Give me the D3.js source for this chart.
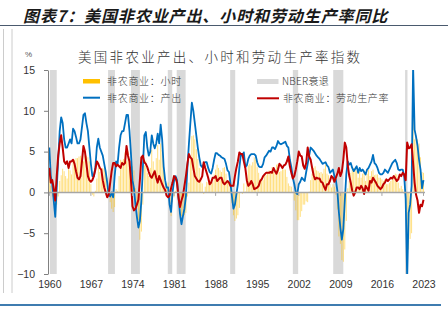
<!DOCTYPE html>
<html>
<head>
<meta charset="utf-8">
<script src="https://cdn.jsdelivr.net/npm/d3@7"></script>
<style>
  html, body { margin: 0; padding: 0; background: #fff; }
  svg { display: block; }
</style>
</head>
<body>
<svg id="chart" width="448" height="321"></svg>
<script>
// ---------------- DATA (quarterly YoY %, 1960Q1 ... 2023Q1) ----------------
const startYear = 1960;
const xTickYears = [1960, 1967, 1974, 1981, 1988, 1995, 2002, 2009, 2016, 2023];
const yTicks = [15, 10, 5, 0, -5, -10];

const output = [
  5.5, 2.0, 1.0, -1.0,   -3.0, 0.5, 4.0, 7.5,   9.2, 8.5, 6.5, 5.5,   5.5, 6.0, 6.5, 6.0,
  7.8, 7.5, 6.8, 6.0,    6.0, 6.5, 8.0, 9.5,    9.7, 8.5, 7.5, 5.5,   3.5, 2.0, 2.0, 3.0,
  5.5, 6.6, 5.5, 5.0,    4.5, 3.5, 2.5, 1.2,    -0.3, -0.5, 0.0, -0.6, 2.0, 3.8, 3.5, 5.5,
  7.0, 7.5, 7.5, 8.5,    9.5, 9.5, 7.5, 4.7,    1.5, 0.5, -1.5, -3.0, -4.3, -3.5, -1.0, 3.0,
  7.0, 7.4, 5.5, 4.5,    5.0, 7.0, 6.0, 5.4,    6.0, 7.2, 6.0, 8.3,   6.5, 3.2, 1.5, 0.6,
  0.6, -1.5, -2.4, 0.0,  1.4, 2.0, 1.5, -0.6,   -2.6, -3.9, -2.9, -2.0, -0.5, 3.0, 5.9, 8.5,
  11.0, 10.0, 8.5, 7.0,  5.5, 4.3, 3.3, 3.1,    3.5, 3.7, 3.7, 3.0,   2.5, 2.3, 3.0, 4.0,
  4.8, 4.8, 4.6, 4.5,    4.3, 4.2, 4.1, 3.5,    2.7, 2.5, 1.1, -0.5,  -2.0, -1.5, -0.2, 1.0,
  3.0, 4.7, 4.5, 4.9,    3.1, 3.3, 4.1, 4.5,    4.7, 4.7, 4.7, 4.5,   3.7, 3.2, 3.1, 3.1,
  3.5, 4.3, 4.5, 4.8,    5.1, 5.0, 5.5, 5.5,    5.3, 5.7, 6.3, 6.0,   5.9, 6.0, 6.1, 6.2,
  5.7, 5.5, 4.0, 3.1,    1.8, 1.0, 0.0, -0.2,   1.0, 1.3, 1.8, 1.6,   1.4, 2.5, 3.5, 4.5,
  5.5, 5.3, 5.1, 4.8,    4.5, 4.3, 4.1, 3.8,    3.5, 3.6, 3.7, 3.3,   3.1, 2.4, 2.6, 2.8,
  2.0, 1.5, 0.2, -2.4,   -4.3, -5.8, -4.5, -1.0, 2.2, 3.8, 3.4, 3.6,  3.0, 2.6, 2.9, 3.2,
  2.4, 3.0, 2.6, 2.8,    2.5, 2.2, 2.8, 3.0,    3.4, 3.8, 4.6, 3.6,   3.4, 3.0, 2.4, 2.2,
  2.2, 2.4, 2.8, 2.6,    2.4, 2.8, 3.2, 3.6,    3.8, 4.0, 3.6, 2.8,   2.7, 2.8, 2.8, 2.0,
  -0.8, -10.5, -2.5, -1.5, 0.8, 15.5, 7.7, 6.8, 5.7, 4.0, 2.8, 0.5,   1.5
];

const productivity = [
  3.0, 1.2, 1.5, 0.5,    -1.0, 2.0, 4.5, 6.0,   7.0, 5.5, 3.8, 3.5,   3.8, 3.0, 3.8, 3.8,
  4.0, 3.5, 2.6, 1.8,    1.6, 2.0, 3.8, 5.7,    5.0, 3.5, 2.0, 1.5,   1.3, 1.5, 2.0, 2.8,
  3.8, 3.5, 3.0, 2.8,    1.5, 0.6, 0.0, -0.6,   -0.3, 1.2, 2.6, 3.6,  3.6, 3.2, 3.4, 3.2,
  3.0, 3.6, 3.4, 3.6,    5.7, 4.5, 3.8, 1.5,    -1.7, -2.2, -2.0, -1.5, -0.9, 1.5, 4.3, 4.5,
  3.7, 3.5, 3.1, 2.5,    2.0, 1.8, 2.2, 2.6,    1.8, 1.2, 2.0, 1.5,   1.0, 0.6, 0.3, -0.4,
  -0.6, -0.4, 0.5, 1.2,  2.0, 1.8, 1.2, -0.6,   -1.8, -1.0, -0.4, 0.8, 2.0, 3.5, 4.7, 4.3,
  4.1, 3.0, 2.0, 1.7,    1.4, 1.3, 1.6, 2.0,    3.7, 3.0, 2.4, 1.8,   1.0, 1.2, 1.8, 1.8,
  2.0, 1.4, 1.6, 1.8,    1.8, 1.2, 1.0, 1.2,    1.4, 1.2, 0.8, 0.8,   0.8, 2.0, 3.0, 3.8,
  4.9, 4.7, 4.7, 3.8,    3.0, 1.5, 0.8, 1.0,    1.4, 1.0, 0.4, 0.5,   0.6, 0.8, 1.4, 1.6,
  2.0, 2.2, 2.4, 2.4,    2.4, 2.5, 2.4, 3.0,    2.6, 2.3, 2.8, 3.5,   3.3, 3.0, 3.3, 3.4,
  3.8, 4.4, 3.2, 2.4,    1.7, 2.0, 2.8, 3.8,    5.0, 4.5, 4.4, 3.3,   2.9, 3.6, 5.5, 4.4,
  4.0, 3.0, 2.1, 1.6,    1.8, 1.7, 1.7, 1.3,    1.2, 0.7, 0.3, 1.0,   1.0, 1.4, 2.0, 1.8,
  1.3, 1.8, 2.3, 3.0,    2.0, 2.5, 4.0, 6.1,    5.5, 3.3, 2.0, 1.2,   0.2, -0.4, 0.0, 0.6,
  0.6, 0.4, 0.8, 0.5,    -0.2, 0.8, 0.5, 0.2,   1.4, 1.2, 1.8, 1.5,   1.2, 0.8, 0.6, 0.4,
  0.6, 1.0, 1.2, 1.6,    1.4, 1.6, 1.8, 1.7,    2.0, 1.7, 1.4, 1.6,   2.2, 2.0, 2.4, 2.2,
  1.5, 6.1, 5.4, 5.5,    5.9, 3.6, 1.2, -0.3,   -1.0, -2.5, -1.5, -1.7, -0.9
];

const hours = [
  2.4, 0.8, -0.5, -1.5,  -2.0, -1.5, -0.5, 1.4, 2.1, 2.9, 2.6, 2.0,   1.7, 3.0, 2.7, 2.2,
  3.8, 4.0, 4.2, 4.2,    4.4, 4.5, 4.2, 3.8,    4.5, 4.5, 4.3, 3.8,   1.0, -0.3, -0.5, 0.2,
  1.7, 3.0, 2.5, 2.2,    3.0, 2.9, 2.5, 1.8,    0.0, -1.2, -2.0, -2.4, -1.8, 0.4, 0.2, 2.0,
  4.0, 3.9, 4.1, 4.9,    3.8, 5.0, 3.7, 3.2,    3.2, 2.7, 0.5, -1.5,  -3.4, -5.8, -4.8, -1.5,
  3.3, 3.9, 2.4, 2.0,    3.0, 5.2, 3.8, 2.8,    4.2, 5.8, 4.0, 6.0,   5.2, 2.6, 1.2, 1.0,
  1.2, -1.1, -2.9, -1.2, -0.6, 0.2, 0.3, 0.0,   -0.8, -2.9, -2.5, -2.8, -2.5, -0.5, 1.2, 4.2,
  6.9, 7.0, 6.5, 5.3,    4.1, 3.0, 1.7, 1.1,    -0.2, 0.7, 1.3, 1.2,  1.5, 1.1, 1.2, 2.2,
  2.8, 3.4, 3.0, 2.7,    2.5, 3.0, 3.1, 2.3,    1.3, 1.3, 0.3, -1.3,  -2.8, -3.5, -3.2, -2.8,
  -1.9, 0.0, -0.2, 1.1,  0.1, 1.8, 3.3, 3.5,    3.3, 3.7, 4.3, 4.0,   3.1, 2.4, 1.7, 1.5,
  1.5, 2.1, 2.1, 2.4,    2.7, 2.5, 3.1, 2.5,    2.7, 3.4, 3.5, 2.5,   2.6, 3.0, 2.8, 2.8,
  1.9, 1.1, 0.8, 0.7,    0.1, -1.0, -2.2, -3.4, -3.4, -3.0, -2.3, -1.5, -1.5, -1.1, -1.2, 0.1,
  1.5, 2.3, 3.0, 3.2,    2.7, 2.6, 2.4, 2.5,    2.3, 2.9, 3.4, 2.3,   2.1, 1.0, 0.6, 1.0,
  0.7, -0.3, -2.1, -5.4, -6.3, -8.3, -8.5, -7.0, -3.5, 0.5, 1.4, 2.4, 2.8, 3.0, 2.9, 2.6,
  1.8, 2.6, 1.8, 2.3,    2.7, 1.4, 2.3, 2.8,    2.0, 2.6, 2.8, 2.1,   2.2, 2.2, 1.8, 1.8,
  1.6, 1.4, 1.6, 1.0,    1.0, 1.2, 1.4, 1.9,    1.8, 2.3, 2.2, 1.2,   0.5, 0.8, 0.4, -0.2,
  -2.0, -14.0, -7.0, -5.7, -5.0, 11.5, 6.5, 7.0, 6.5, 6.0, 4.3, 2.5,  2.4
];

// NBER recessions (fractional years)
const recessionStart = [1960.1, 1969.9, 1973.75, 1979.95, 1981.45, 1990.45, 2001.0, 2007.8, 2019.9];
const recessionEnd   = [1961.25, 1971.05, 1975.25, 1980.7, 1982.95, 1991.3, 2001.9, 2009.5, 2020.3];

const titleText = "图表7：美国非农业产出、小时和劳动生产率同比";
const chartTitle = "美国非农业产出、小时和劳动生产率指数";
const legendLabels = ["非农商业：小时", "非农商业：产出", "NBER衰退", "非农商业：劳动生产率"];

// ---------------- DRAW ----------------
const svg = d3.select("#chart");
const cjk = "'Noto Sans CJK SC', 'Noto Sans', sans-serif";
const latin = "'Liberation Sans', Arial, sans-serif";

const plot = { left: 48, right: 430, top: 70, bottom: 274 };
const x = d3.scaleLinear().domain([1960, 2023]).range([49.3, 423.5]);
const y = d3.scaleLinear().domain([-10, 15]).range([plot.bottom, plot.top]);

const t = i => startYear + i / 4;

// page decorations
svg.append("rect").attr("width", 448).attr("height", 321).attr("fill", "#fff");
svg.append("text").attr("x", 23).attr("y", 22)
  .attr("font-family", cjk).attr("font-size", 16).attr("font-weight", 700)
  .attr("font-style", "italic").attr("letter-spacing", 0.9).attr("fill", "#1a1a1a")
  .text(titleText);
svg.append("line").attr("x1", 0).attr("x2", 448).attr("y1", 25.5).attr("y2", 25.5)
  .attr("stroke", "#4a5a6e").attr("stroke-width", 1.2);
svg.append("line").attr("x1", 0).attr("x2", 441).attr("y1", 305).attr("y2", 305)
  .attr("stroke", "#3f7cb0").attr("stroke-width", 2);
[3.5, 12].forEach(xx => svg.append("line").attr("x1", xx).attr("x2", xx)
  .attr("y1", 29).attr("y2", 293).attr("stroke", "#cccccc").attr("stroke-width", 1));

// chart title & unit
svg.append("text").attr("x", 78).attr("y", 62)
  .attr("font-family", cjk).attr("font-size", 13.5).attr("font-weight", 300)
  .attr("letter-spacing", 2.3).attr("fill", "#333").text(chartTitle);
svg.append("text").attr("x", 25).attr("y", 57)
  .attr("font-family", latin).attr("font-size", 8).attr("fill", "#555").text("%");

// clip
svg.append("defs").append("clipPath").attr("id", "clip")
  .append("rect").attr("x", plot.left).attr("y", plot.top)
  .attr("width", plot.right - plot.left).attr("height", plot.bottom - plot.top);

const g = svg.append("g").attr("clip-path", "url(#clip)");

// recession bands
g.selectAll("rect.rec").data(recessionStart).enter().append("rect")
  .attr("class", "rec")
  .attr("x", (d) => x(d))
  .attr("width", (d, i) => x(recessionEnd[i]) - x(d))
  .attr("y", y(15)).attr("height", y(-10) - y(15))
  .attr("fill", "#d9d9d9");

// hours bars
g.selectAll("rect.bar").data(hours).enter().append("rect")
  .attr("class", "bar")
  .attr("x", (d, i) => x(t(i)) - 0.45)
  .attr("width", 0.9)
  .attr("y", d => y(Math.max(0, d)))
  .attr("height", d => Math.abs(y(d) - y(0)))
  .attr("fill", "#FFC000").attr("fill-opacity", 0.55);

// zero line + x ticks
svg.append("line").attr("x1", plot.left).attr("x2", 425)
  .attr("y1", y(0)).attr("y2", y(0)).attr("stroke", "#a6a6a6").attr("stroke-width", 1.5);
svg.selectAll("line.xt").data(xTickYears).enter().append("line")
  .attr("x1", d => x(d)).attr("x2", d => x(d))
  .attr("y1", y(0)).attr("y2", y(0) + 3.5).attr("stroke", "#a6a6a6").attr("stroke-width", 1);

// lines
const line = d3.line().x((d, i) => x(t(i))).y(d => y(d));
g.append("path").datum(output).attr("d", line).attr("fill", "none")
  .attr("stroke", "#0070C0").attr("stroke-width", 1.8).attr("stroke-linejoin", "round");
g.append("path").datum(productivity).attr("d", line).attr("fill", "none")
  .attr("stroke", "#C00000").attr("stroke-width", 2).attr("stroke-linejoin", "round");

// y axis
const yAxis = d3.axisLeft(y).tickValues(yTicks).tickSize(4).tickPadding(9).tickSizeOuter(0);
const ya = svg.append("g").attr("transform", `translate(${plot.left},0)`).call(yAxis);
ya.select(".domain").attr("stroke", "#808080");
ya.selectAll(".tick line").attr("stroke", "#808080");
ya.selectAll(".tick text").attr("font-family", latin).attr("font-size", 10.5).attr("fill", "#333");

// x labels
const xAxis = d3.axisBottom(x).tickValues(xTickYears).tickFormat(d3.format("d")).tickSize(0).tickPadding(0);
const xa = svg.append("g").attr("transform", `translate(0,281)`).call(xAxis);
xa.select(".domain").remove();
xa.selectAll(".tick text").attr("font-family", latin).attr("font-size", 10.5).attr("fill", "#333");

// legend
const lg = svg.append("g").attr("font-family", cjk).attr("font-size", 10).attr("font-weight", 300).attr("fill", "#333");
lg.append("rect").attr("x", 83).attr("y", 79).attr("width", 17).attr("height", 4.5).attr("fill", "#FFC000");
lg.append("text").attr("x", 107).attr("y", 85).attr("letter-spacing", 0.7).text(legendLabels[0]);
lg.append("line").attr("x1", 83).attr("x2", 100).attr("y1", 97.7).attr("y2", 97.7)
  .attr("stroke", "#0070C0").attr("stroke-width", 2);
lg.append("text").attr("x", 107).attr("y", 101.5).attr("letter-spacing", 0.7).text(legendLabels[1]);
lg.append("rect").attr("x", 257).attr("y", 79).attr("width", 21.5).attr("height", 5).attr("fill", "#d9d9d9");
lg.append("text").attr("x", 282).attr("y", 85).attr("letter-spacing", 0.3).text(legendLabels[2]);
lg.append("line").attr("x1", 257).attr("x2", 279).attr("y1", 98.3).attr("y2", 98.3)
  .attr("stroke", "#C00000").attr("stroke-width", 2);
lg.append("text").attr("x", 283).attr("y", 101.5).attr("letter-spacing", 0.6).text(legendLabels[3]);
</script>
</body>
</html>
